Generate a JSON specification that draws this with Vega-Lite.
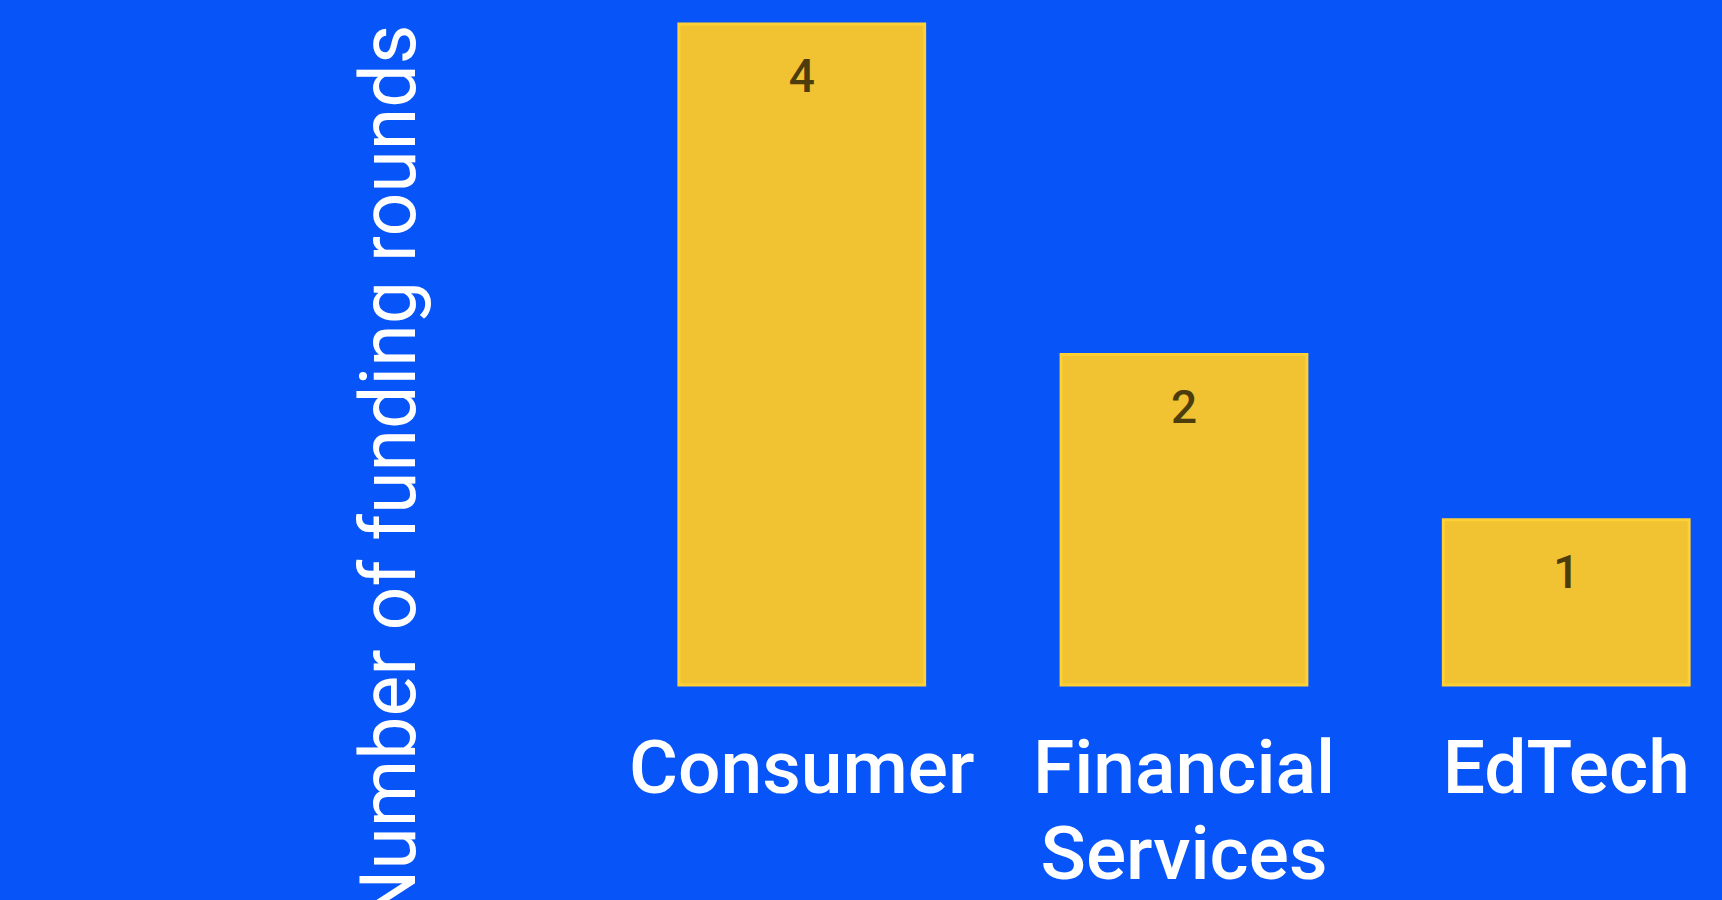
{
  "$schema": "https://vega.github.io/schema/vega-lite/v6.json",
  "width": 1076,
  "height": 661,
  "autosize": {"type": "none"},
  "padding": {"left": 646, "top": 24, "right": 0, "bottom": 215},
  "background": "#0755F8",
  "config": {
    "view": {"stroke": null},
    "font": "Roboto"
  },
  "data": {
    "values": [
      {"sector": "Consumer", "rounds": 4},
      {"sector": "Financial Services", "rounds": 2},
      {"sector": "EdTech", "rounds": 1}
    ]
  },
  "encoding": {
    "x": {
      "field": "sector",
      "type": "nominal",
      "sort": null,
      "scale": {"paddingInner": 0.357, "paddingOuter": 0.086},
      "axis": {
        "title": null,
        "domain": false,
        "ticks": false,
        "labelAngle": 0,
        "labelColor": "#FFFFFF",
        "labelFont": "Roboto",
        "labelFontSize": 75,
        "labelFontWeight": 500,
        "labelPadding": 48,
        "labelLimit": 0,
        "labelLineHeight": 86,
        "labelExpr": "split(datum.label, ' ')"
      }
    },
    "y": {
      "field": "rounds",
      "type": "quantitative",
      "scale": {"domain": [0, 4], "nice": false},
      "axis": {
        "title": "Number of funding rounds",
        "titleColor": "#FFFFFF",
        "titleFont": "Roboto",
        "titleFontSize": 77,
        "titleFontWeight": "normal",
        "titleAnchor": "end",
        "titlePadding": 216,
        "minExtent": 0,
        "labels": false,
        "ticks": false,
        "domain": false,
        "grid": false
      }
    }
  },
  "layer": [
    {
      "mark": {"type": "bar", "color": "#F1C232", "stroke": "#FFD036", "strokeWidth": 3}
    },
    {
      "mark": {"type": "text", "baseline": "top", "dy": 32, "fontSize": 46, "fontWeight": 500, "font": "Roboto", "color": "#4D3D0C"},
      "encoding": {"text": {"field": "rounds", "type": "quantitative"}}
    }
  ]
}
